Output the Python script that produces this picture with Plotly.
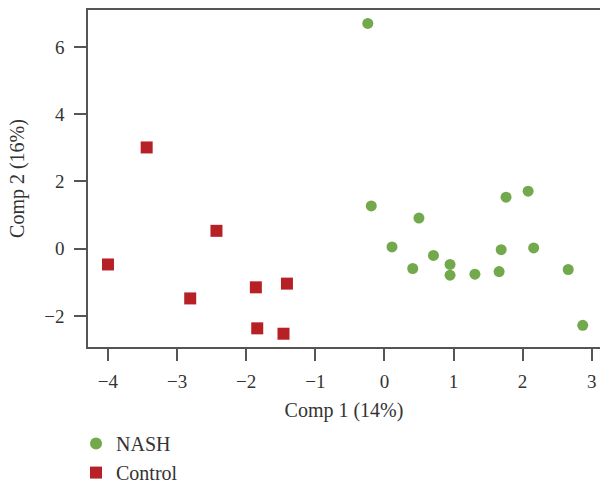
import plotly.graph_objects as go

nash_x = [-0.24, -0.19, 0.50, 0.11, 0.41, 0.71, 0.95, 0.95, 1.31, 1.66, 1.69, 2.16, 2.66, 2.87, 1.76, 2.08]
nash_y = [6.70, 1.27, 0.91, 0.05, -0.59, -0.20, -0.47, -0.79, -0.76, -0.68, -0.03, 0.02, -0.62, -2.28, 1.53, 1.71]
ctrl_x = [-3.44, -2.43, -4.00, -2.81, -1.86, -1.84, -1.41, -1.46]
ctrl_y = [3.01, 0.53, -0.47, -1.48, -1.15, -2.37, -1.04, -2.53]

x_ticks = [-4, -3, -2, -1, 0, 1, 2, 3]
y_ticks = [-2, 0, 2, 4, 6]
x_title = "Comp 1 (14%)"
y_title = "Comp 2 (16%)"

GREEN = "#72A94C"
RED = "#B72126"
FONT = "Liberation Serif"
AX = "#555555"

fig = go.Figure()
fig.add_trace(go.Scatter(x=nash_x, y=nash_y, mode="markers", name="NASH",
                         marker=dict(symbol="circle", size=11, color=GREEN)))
fig.add_trace(go.Scatter(x=ctrl_x, y=ctrl_y, mode="markers", name="Control",
                         marker=dict(symbol="square", size=12, color=RED)))

fig.update_layout(
    width=600, height=483,
    margin=dict(l=88, r=0, t=10, b=136),
    paper_bgcolor="white", plot_bgcolor="white",
    font=dict(family=FONT, size=19, color="#333333"),
    showlegend=True,
    legend=dict(x=-0.0234, y=0.122, xanchor="left", yanchor="top",
                xref="paper", yref="container",
                font=dict(family=FONT, size=20, color="#333333"),
                itemsizing="constant", tracegroupgap=0,
                bgcolor="rgba(0,0,0,0)"),
    xaxis=dict(range=[-4.289, 3.12], tickvals=x_ticks,
               ticktext=["\u2212" + str(-v) if v < 0 else str(v) for v in x_ticks],
               showgrid=False, zeroline=False, automargin=False,
               showline=True, linecolor=AX, linewidth=1.5, mirror=True,
               ticks="outside", ticklen=12, tickwidth=1.5, tickcolor=AX,
               ticklabelstandoff=4, ticklabeloverflow="allow",
               title=dict(text=x_title, standoff=12,
                          font=dict(family=FONT, size=20, color="#333333"))),
    yaxis=dict(range=[-2.925, 7.098], tickvals=y_ticks,
               ticktext=["\u2212" + str(-v) if v < 0 else str(v) for v in y_ticks],
               showgrid=False, zeroline=False, automargin=False,
               showline=True, linecolor=AX, linewidth=1.5,
               ticks="outside", ticklen=12, tickwidth=1.5, tickcolor=AX,
               ticklabelstandoff=6,
               title=dict(text=y_title, standoff=14,
                          font=dict(family=FONT, size=20, color="#333333"))),
)

fig.write_html("out.html", config={"displayModeBar": False},
               post_script="document.body.style.margin='0px';")
